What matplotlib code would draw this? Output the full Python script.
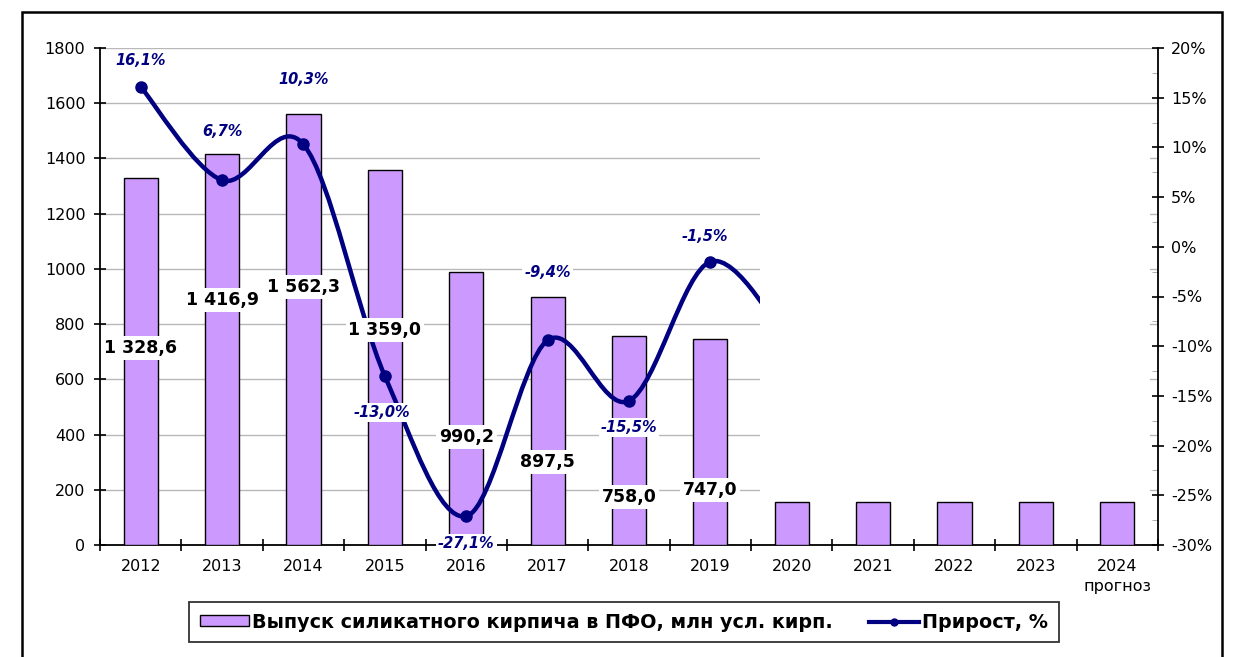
import numpy as np
import matplotlib.pyplot as plt
from matplotlib.path import Path
from matplotlib.patches import PathPatch, Rectangle
from matplotlib.lines import Line2D
from matplotlib.ticker import FuncFormatter, MultipleLocator

# data
years = ['2012', '2013', '2014', '2015', '2016', '2017', '2018', '2019',
         '2020', '2021', '2022', '2023', '2024\nпрогноз']
output = [1328.6, 1416.9, 1562.3, 1359.0, 990.2, 897.5, 758.0, 747.0,
          155, 155, 155, 155, 155]          # 2020-2024: only the visible stubs
output_labels = ['1 328,6', '1 416,9', '1 562,3', '1 359,0', '990,2', '897,5', '758,0', '747,0']
growth = [16.1, 6.7, 10.3, -13.0, -27.1, -9.4, -15.5, -1.5, -10.0]   # 2020 value hidden, estimated
growth_labels = ['16,1%', '6,7%', '10,3%', '-13,0%', '-27,1%', '-9,4%', '-15,5%', '-1,5%']

# label placement (left-axis units for bar labels, offsets in points for growth labels)
bar_label_y = [713, 887, 934, 779, 391, 301, 174, 199]
growth_offsets = [(0, 19), (0, 35), (0, 47), (-2, -26), (0, -20), (0, 49), (0, -19), (-4, 18)]

BAR = '#CC99FF'
NAVY = '#000080'
plt.rcParams['font.family'] = ['DejaVu Sans']

fig = plt.figure(figsize=(12.33, 6.57), dpi=100)
ax = fig.add_axes([100/1233, 1-545/657, 1058/1233, 497/657])
ax2 = ax.twinx()

x = np.arange(len(years))
ax.bar(x, output, width=0.42, color=BAR, edgecolor='black', linewidth=1, zorder=3)
ax.set_xlim(-0.5, len(years) - 0.5)
ax.set_ylim(0, 1800)
ax.yaxis.set_major_locator(MultipleLocator(200))
ax.grid(axis='y', color='#B8B8B8', linewidth=1, zorder=0)
ax.set_axisbelow(True)
ax.set_xticks(x)
ax.set_xticklabels(years, fontsize=11.5, linespacing=1.45, va='top')
ax.set_xticks(np.arange(-0.5, len(years)), minor=True)
ax.tick_params(axis='x', which='major', length=0, pad=10)
ax.tick_params(axis='x', which='minor', direction='inout', length=9, width=1.2)
ax.tick_params(axis='y', direction='inout', length=9, width=1.2, labelsize=11.5, pad=6)
ax.spines['top'].set_visible(False)
ax.spines['right'].set_visible(False)
for s in ('left', 'bottom'):
    ax.spines[s].set_linewidth(1.3)

# smoothed growth line (Catmull-Rom bezier, like Excel's smoothed line)
pts = np.column_stack([np.arange(len(growth)), growth])
ext = np.vstack([pts[0], pts, pts[-1]])
verts, codes = [tuple(pts[0])], [Path.MOVETO]
for i in range(len(pts) - 1):
    p0, p1, p2, p3 = ext[i], ext[i+1], ext[i+2], ext[i+3]
    verts += [tuple(p1 + (p2 - p0) / 6), tuple(p2 - (p3 - p1) / 6), tuple(p2)]
    codes += [Path.CURVE4] * 3
ax2.add_patch(PathPatch(Path(verts, codes), facecolor='none', edgecolor=NAVY,
                        linewidth=3.2, zorder=4, capstyle='round'))
n = len(growth_labels)
ax2.plot(pts[:n, 0], pts[:n, 1], 'o', color=NAVY, markersize=8, zorder=5)
ax2.set_ylim(-30, 20)
ax2.yaxis.set_major_locator(MultipleLocator(5))
ax2.yaxis.set_minor_locator(MultipleLocator(2.5))
ax2.yaxis.set_major_formatter(FuncFormatter(lambda v, p: f'{v:.0f}%'))
ax2.tick_params(axis='y', which='major', direction='inout', length=9, width=1.2, labelsize=11.5, pad=5)
ax2.tick_params(axis='y', which='minor', direction='in', length=4, color='#A0A0A0')
for s in ('top', 'left', 'bottom'):
    ax2.spines[s].set_visible(False)
ax2.spines['right'].set_linewidth(1.3)

# white area hiding the forecast part, as in the source picture
ax2.add_patch(Rectangle((7.61, 170), 12.4 - 7.61, 1585 - 170, transform=ax.transData,
                        facecolor='white', edgecolor='none', zorder=6))

# labels
for i, (t, yl) in enumerate(zip(output_labels, bar_label_y)):
    ax2.text(x[i], yl, t, transform=ax.transData, ha='center', va='center',
             fontsize=12.5, fontweight='bold', zorder=8,
             bbox=dict(facecolor='white', edgecolor='none', pad=2))
for i, (t, off) in enumerate(zip(growth_labels, growth_offsets)):
    ax2.annotate(t, (x[i], growth[i]), xytext=off, textcoords='offset points',
                 ha='center', va='center', fontsize=10.5, fontweight='bold', style='italic',
                 color=NAVY, zorder=8,
                 bbox=dict(facecolor='white', edgecolor='none', pad=1.5))

# legend
handles = [Rectangle((0, 0), 1, 1, facecolor=BAR, edgecolor='black', linewidth=1),
           Line2D([], [], color=NAVY, linewidth=3, marker='o', markersize=5)]
leg = fig.legend(handles, ['Выпуск силикатного кирпича в ПФО, млн усл. кирп.', 'Прирост, %'],
                 loc='center', bbox_to_anchor=(0.506, 0.053), ncol=2, frameon=True,
                 fancybox=False, edgecolor='black', handlelength=2.6, handleheight=0.5,
                 handletextpad=0.15, columnspacing=1.9, borderpad=0.55,
                 prop={'size': 13.8, 'weight': 'bold'})
leg.get_frame().set_linewidth(1.3)

# outer frame
fig.patches.append(Rectangle((22/1233, -0.01), 1200/1233, 1 - 12/657 + 0.01,
                             transform=fig.transFigure, facecolor='none',
                             edgecolor='black', linewidth=1.8))

fig.savefig('out.png', dpi=100)
